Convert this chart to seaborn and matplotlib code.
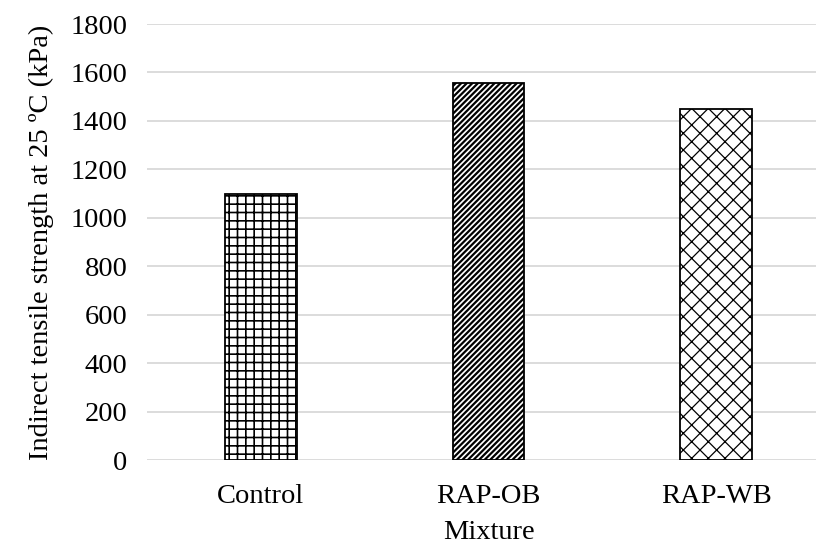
import matplotlib
matplotlib.use("Agg")
import matplotlib.pyplot as plt
import seaborn as sns
import pandas as pd

mixtures = ["Control", "RAP-OB", "RAP-WB"]
its_values = [1100, 1555, 1450]
y_ticks = [0, 200, 400, 600, 800, 1000, 1200, 1400, 1600, 1800]
hatches = ["++", "//////", "xx"]
hatch_lws = [1.2, 1.6, 0.9]

sns.set_style("white")
plt.rcParams["font.family"] = ["Liberation Serif", "DejaVu Serif"]
plt.rcParams["hatch.color"] = "black"
plt.rcParams["text.color"] = "black"
plt.rcParams["axes.labelcolor"] = "black"

df = pd.DataFrame({"Mixture": mixtures, "ITS": its_values})

fig = plt.figure(figsize=(8.16, 5.49), dpi=100)
ax = fig.add_axes([147/816, (549-460)/549, (830-147)/816, (460-24)/549])

sns.barplot(data=df, x="Mixture", y="ITS", ax=ax, color="white",
            edgecolor="black", linewidth=1.3, width=0.316, zorder=3)

for patch, h, lw in zip(ax.patches, hatches, hatch_lws):
    patch.set_hatch(h)
    patch.set_facecolor("white")
    if hasattr(patch, "set_hatch_linewidth"):
        patch.set_hatch_linewidth(lw)

ax.set_ylim(0, 1800)
ax.set_xlim(-0.5, 2.5)
ax.set_yticks(y_ticks)
ax.set_yticklabels([str(v) for v in y_ticks])
ax.yaxis.grid(True, color="#d9d9d9", linewidth=1.3, zorder=0)
ax.set_axisbelow(True)
for s in ax.spines.values():
    s.set_visible(False)
ax.tick_params(axis="both", length=0, labelsize=20.5, colors="black")
ax.tick_params(axis="y", pad=14)
ax.tick_params(axis="x", pad=17)
ax.set_xlabel("Mixture", fontsize=20.5, labelpad=8, color="black")
ax.set_ylabel("Indirect tensile strength at 25 ºC (kPa)", fontsize=20.5,
              labelpad=12, color="black")

fig.savefig("out.png", dpi=100)
